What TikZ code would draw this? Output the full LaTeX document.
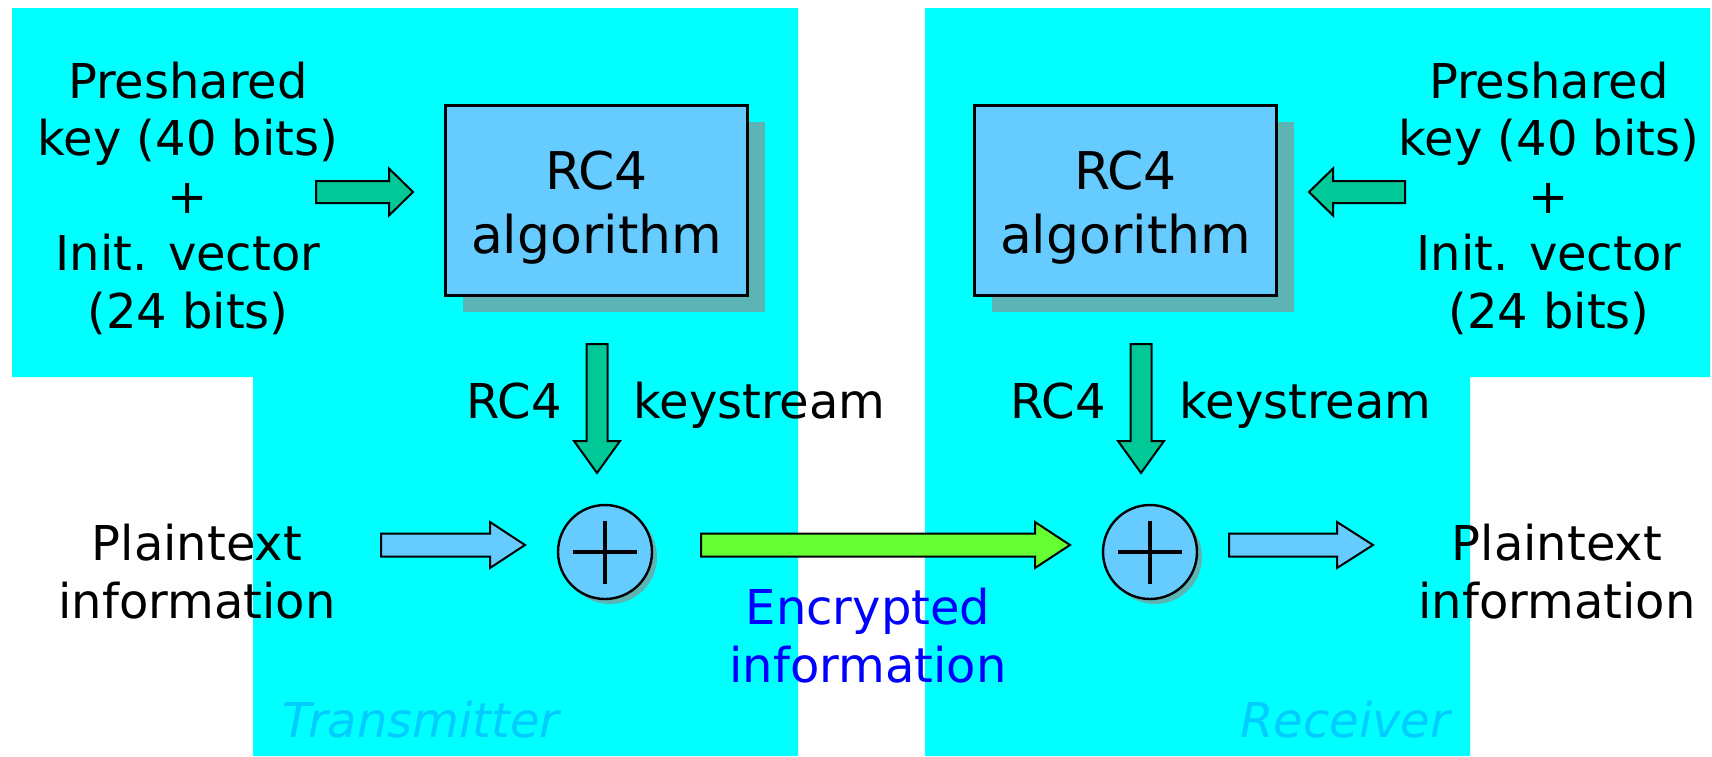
\documentclass[tikz,border=0pt]{standalone}
\usepackage{fontspec}
\setmainfont{DejaVu Sans}
\usetikzlibrary{calc,shadows}

\definecolor{zonecyan}{HTML}{00FFFF}
\definecolor{boxblue}{HTML}{66CCFF}
\definecolor{keygreen}{HTML}{00C896}
\definecolor{limegreen}{HTML}{66FF33}
\definecolor{shadowteal}{HTML}{5CB4B4}
\definecolor{zonelabel}{HTML}{00CCFF}

% Block arrow: #1 style, #2 tail coordinate, #3 tip coordinate,
% #4 shaft half-width, #5 head half-width, #6 head length
\newcommand\blockarrow[6]{%
  \coordinate (hb) at ($(#3)!#6!(#2)$);
  \draw[#1] ($(#2)!#4!90:(#3)$) -- ($(hb)!#4!90:(#3)$) -- ($(hb)!#5!90:(#3)$)
    -- (#3) -- ($(hb)!#5!-90:(#3)$) -- ($(hb)!#4!-90:(#3)$)
    -- ($(#2)!#4!-90:(#3)$) -- cycle;
}

\begin{document}
\begin{tikzpicture}[x=0.5pt,y=-0.5pt,
  txt/.style={inner sep=0pt,align=center,font=\fontsize{24pt}{28.75pt}\selectfont},
  algtxt/.style={inner sep=0pt,align=center,font=\fontsize{26pt}{32pt}\selectfont},
  zonetxt/.style={inner sep=0pt,text=zonelabel,font=\fontsize{24pt}{28pt}\selectfont\itshape},
  algbox/.style={draw=black,line width=1.5pt,fill=boxblue,minimum width=151pt,minimum height=95pt,inner sep=0pt,
    drop shadow={shadow xshift=8.5pt,shadow yshift=-8pt,fill=shadowteal,opacity=1}},
  xorc/.style={circle,draw=black,line width=1.2pt,fill=boxblue,minimum size=47pt,inner sep=0pt,
    drop shadow={shadow xshift=2.5pt,shadow yshift=-2.5pt,fill=shadowteal,opacity=1}},
  plusbar/.style={line width=2pt},
  garrow/.style={draw=black,line width=1pt,fill=keygreen,line join=miter},
  barrow/.style={draw=black,line width=1pt,fill=boxblue,line join=miter},
  larrow/.style={draw=black,line width=1pt,fill=limegreen,line join=miter}]

\useasboundingbox[fill=white] (0,0) rectangle (1712,756);

% transmitter and receiver zones
\fill[zonecyan] (12,8) -- (798,8) -- (798,756) -- (253,756) -- (253,377) -- (12,377) -- cycle;
\fill[zonecyan] (925,8) -- (1710,8) -- (1710,377) -- (1470,377) -- (1470,756) -- (925,756) -- cycle;

% RC4 blocks (text anchored on the baseline of its last line)
\node[algbox] (algL) at (596.5,200.5) {};
\node[algbox] (algR) at (1125.5,200.5) {};
\node[algtxt,anchor=base] (algLt) at (596.5,253) {RC4\\algorithm};
\node[algtxt,anchor=base] (algRt) at (1125.5,253) {RC4\\algorithm};

% key inputs
\node[txt,anchor=base] (keyL) at (188,328) {Preshared\\key (40 bits)\\+\\Init. vector\\(24 bits)};
\node[txt,anchor=base] (keyR) at (1549,328) {Preshared\\key (40 bits)\\+\\Init. vector\\(24 bits)};

% keystream labels
\node[txt,anchor=base east] (rc4L) at (562,418) {RC4};
\node[txt,anchor=base west] (ksL) at (633,418) {keystream};
\node[txt,anchor=base east] (rc4R) at (1106,418) {RC4};
\node[txt,anchor=base west] (ksR) at (1179,418) {keystream};

% XOR combiners
\node[xorc] (xorL) at (605,552) {};
\node[xorc] (xorR) at (1150,552) {};
\foreach \n in {xorL,xorR}{
  \draw[plusbar] ([xshift=-16pt]\n.center) -- ([xshift=16pt]\n.center);
  \draw[plusbar] ([yshift=15.75pt]\n.center) -- ([yshift=-15.75pt]\n.center);
}

% plaintext and ciphertext labels
\node[txt,anchor=base] (ptL) at (197,618) {Plaintext\\information};
\node[txt,anchor=base] (ptR) at (1557,618) {Plaintext\\information};
\node[txt,anchor=base,text=blue] (enc) at (868,682) {Encrypted\\information};

\node[zonetxt,anchor=base west] (tx) at (282,737) {Transmitter};
\node[zonetxt,anchor=base west] (rx) at (1240,737) {Receiver};

% block arrows
\coordinate (kaL0) at (316,192);  \coordinate (kaL1) at (413,192);
\coordinate (kaR0) at (1405,192); \coordinate (kaR1) at (1309,192);
\coordinate (ksL0) at (597,344);  \coordinate (ksL1) at (597,473);
\coordinate (ksR0) at (1141,344); \coordinate (ksR1) at (1141,473);
\coordinate (ptL0) at (381,545);  \coordinate (ptL1) at (525,545);
\coordinate (ct0)  at (701,545);  \coordinate (ct1)  at (1070,545);
\coordinate (ptR0) at (1229,545); \coordinate (ptR1) at (1373,545);

\blockarrow{garrow}{kaL0}{kaL1}{5.5pt}{11.75pt}{12pt}
\blockarrow{garrow}{kaR0}{kaR1}{5.5pt}{11.75pt}{12pt}
\blockarrow{garrow}{ksL0}{ksL1}{5.25pt}{11.5pt}{16pt}
\blockarrow{garrow}{ksR0}{ksR1}{5.25pt}{11.5pt}{16pt}
\blockarrow{barrow}{ptL0}{ptL1}{5.75pt}{11.5pt}{17.5pt}
\blockarrow{larrow}{ct0}{ct1}{5.75pt}{11.5pt}{17.5pt}
\blockarrow{barrow}{ptR0}{ptR1}{5.75pt}{11.5pt}{18pt}

\end{tikzpicture}
\end{document}
